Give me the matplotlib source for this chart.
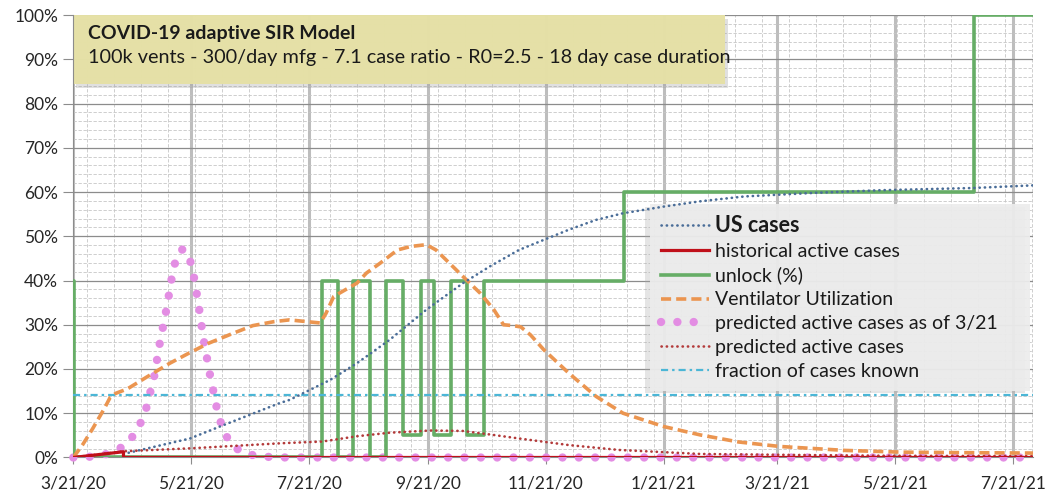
import matplotlib
matplotlib.use('Agg')
import matplotlib.pyplot as plt
import matplotlib.patheffects as pe
from matplotlib.patches import Rectangle
from matplotlib.ticker import MultipleLocator, PercentFormatter
import numpy as np
import pandas as pd

plt.rcParams['font.family'] = ['Lato', 'DejaVu Sans']

start = pd.Timestamp('2020-03-21')
end_day = 497.5

tick_dates = pd.to_datetime(['2020-03-21', '2020-05-21', '2020-07-21', '2020-09-21', '2020-11-21',
                             '2021-01-21', '2021-03-21', '2021-05-21', '2021-07-21'])
tick_labels = ['3/21/20', '5/21/20', '7/21/20', '9/21/20', '11/21/20',
               '1/21/21', '3/21/21', '5/21/21', '7/21/21']

# all series: days since 3/21/20 -> percent
us_days = [26, 60.5, 76, 107, 112, 133, 147, 164, 183, 202, 216, 231, 244, 257, 271, 285, 306, 325,
           348, 384, 418, 466, 497.5]
us_pct = [0.8, 4.3, 7, 12.3, 13, 17.5, 21.3, 26.6, 33.4, 39.4, 43.2, 46.9, 49.2, 51.5, 53.7, 55.2,
          56.7, 57.9, 59, 59.8, 60.4, 60.9, 61.5]

hist_days = [0, 26, 26, 497.5]
hist_pct = [0, 1.3, 0, 0]

unlock_days = [0, 0.5, 129, 137, 145, 154, 162, 171, 180, 187, 196, 204, 213, 285.5, 467, 497.5]
unlock_pct = [40, 0, 40, 0, 40, 0, 40, 5, 40, 5, 40, 5, 40, 60, 100, 100]

vent_days = [0, 5, 10, 16, 19, 22, 28, 40, 50, 60, 70, 83, 93, 104, 112, 128, 131, 135, 147, 152,
             159, 168, 175, 183, 188, 195, 202, 211, 218, 223, 228, 232, 237, 244, 257, 271, 285,
             306, 325, 345, 366, 400, 430, 460, 497.5]
vent_pct = [0, 3, 6.5, 11, 13.5, 14.5, 15.5, 18.7, 21.3, 23.6, 25.8, 28.1, 29.8, 30.7, 31.1, 30.4,
            32.6, 36.4, 39.4, 41.7, 43.9, 46.9, 47.7, 48.1, 46.9, 43.9, 40.9, 37.1, 33.4, 30, 29.8,
            29.5, 27.7, 24.3, 19, 13.8, 10, 7, 5.1, 3.5, 2.5, 1.6, 1.2, 1.1, 1.0]

pred321_days = [0, 10, 20, 28, 33.4, 37.2, 41.8, 44.8, 48.4, 51.5, 53.7, 56.5, 58.8, 61.7, 64.8,
                67.4, 70.7, 74.3, 77, 81, 87.6, 97, 110, 497.5]
pred321_pct = [0, 0.2, 1, 3.1, 6.4, 10.1, 18, 25.8, 33.8, 41.8, 45.7, 47, 46.7, 42.9, 34.9, 27, 19,
               11.3, 7, 3.4, 1, 0.2, 0, 0]

pred_days = [0, 26, 62, 107, 112, 129, 147, 164, 185, 202, 216, 231, 257, 283, 325, 368, 420, 497.5]
pred_pct = [0, 1.4, 2.1, 3.2, 3.3, 3.6, 4.8, 5.6, 6.1, 6.0, 5.2, 4.3, 2.8, 1.7, 0.8, 0.6, 0.4, 0.3]

known_days = [0, 497.5]
known_pct = [14.2, 14.2]


def to_dates(days):
    return start + pd.to_timedelta(np.asarray(days, dtype=float), unit='D')


fig = plt.figure(figsize=(10.46, 4.94), dpi=100)
ax = fig.add_axes([0.0701, 0.0739, 0.9175, 0.8957])

l_us, = ax.plot(to_dates(us_days), us_pct, color='#4a6d98', lw=1.9, ls=(0, (0.1, 1.9)),
                dash_capstyle='round', zorder=6, label='US cases')
l_hist, = ax.plot(to_dates(hist_days), hist_pct, color='#c0101a', lw=2.3, zorder=7,
                  label='historical active cases')
l_unlock, = ax.step(to_dates(unlock_days), unlock_pct, where='post', color='#66ad66', lw=2.6,
                    zorder=4, label='unlock (%)')
l_vent, = ax.plot(to_dates(vent_days), vent_pct, color='#eb9550', lw=2.6, ls=(0, (2.8, 1.4)),
                  zorder=5, label='Ventilator Utilization')
l_p321, = ax.plot(to_dates(pred321_days), pred321_pct, color='#e38de3', lw=6,
                  ls=(0, (0.01, 1.95)), dash_capstyle='round', zorder=3, clip_on=False,
                  label='predicted active cases as of 3/21')
l_pred, = ax.plot(to_dates(pred_days), pred_pct, color='#b33a3a', lw=1.9, ls=(0, (0.1, 1.9)),
                  dash_capstyle='round', zorder=6, label='predicted active cases')
l_known, = ax.plot(to_dates(known_days), known_pct, color='#4bb6d6', lw=1.6,
                   ls=(0, (3.2, 1.8, 1.1, 1.8)), zorder=4, label='fraction of cases known')

ax.set_xlim(to_dates([0])[0], to_dates([end_day])[0])
ax.set_ylim(0, 100)
ax.yaxis.set_major_locator(MultipleLocator(10))
ax.yaxis.set_minor_locator(MultipleLocator(2))
ax.yaxis.set_major_formatter(PercentFormatter(xmax=100, decimals=0))
ax.set_xticks(tick_dates)
ax.set_xticklabels(tick_labels)
ax.set_xticks(to_dates(np.arange(7, end_day, 14)), minor=True)

ax.set_axisbelow(True)
ax.grid(which='major', axis='y', color='#8c8c8c', lw=0.9)
ax.grid(which='major', axis='x', color='#bdbdbd', lw=2.2)
ax.grid(which='minor', color='#c6c6c6', lw=0.6, ls=(0, (4, 2)))
ax.tick_params(which='minor', length=0)
ax.tick_params(axis='y', which='major', length=7, color='#8c8c8c', labelsize=12.5, pad=4,
               labelcolor='#262626')
ax.tick_params(axis='x', which='major', length=5, color='#8c8c8c', labelsize=12.5, pad=8,
               labelcolor='#262626')
for s in ['top', 'right']:
    ax.spines[s].set_visible(False)
for s in ['left', 'bottom']:
    ax.spines[s].set_color('#8c8c8c')

# title box
tbox = Rectangle((0, 0.844), 0.679, 0.156, transform=ax.transAxes, facecolor='#e6e1a6',
                 alpha=0.85, edgecolor='none', zorder=2.5)
tbox.set_path_effects([pe.withSimplePatchShadow(offset=(2, -3), shadow_rgbFace='#999999', alpha=0.3),
                       pe.Normal()])
ax.add_patch(tbox)
ax.text(0.0153, 0.959, 'COVID-19 adaptive SIR Model', transform=ax.transAxes, fontsize=14,
        fontweight='bold', va='center', ha='left', color='#1a1a1a', zorder=8)
ax.text(0.0153, 0.903, '100k vents - 300/day mfg - 7.1 case ratio - R0=2.5 - 18 day case duration',
        transform=ax.transAxes, fontsize=14.3, va='center', ha='left', color='#1a1a1a', zorder=8)

leg = ax.legend(handles=[l_us, l_hist, l_unlock, l_vent, l_p321, l_pred, l_known],
                loc='upper left', bbox_to_anchor=(0.601, 0.572, 0.396, 0.0), mode='expand',
                borderaxespad=0, fontsize=14, frameon=True, fancybox=False, framealpha=0.75,
                facecolor='#ececec', edgecolor='none', handlelength=2.5, handletextpad=0.3,
                labelspacing=0.35, borderpad=0.55)
leg.get_frame().set_path_effects([pe.withSimplePatchShadow(offset=(-4, -2), shadow_rgbFace='#aaaaaa',
                                                           alpha=0.3), pe.Normal()])
leg.texts[0].set_fontweight('bold')
leg.texts[0].set_fontsize(15.5)
for t in leg.texts:
    t.set_color('#1a1a1a')

fig.savefig('out.png', dpi=100)
